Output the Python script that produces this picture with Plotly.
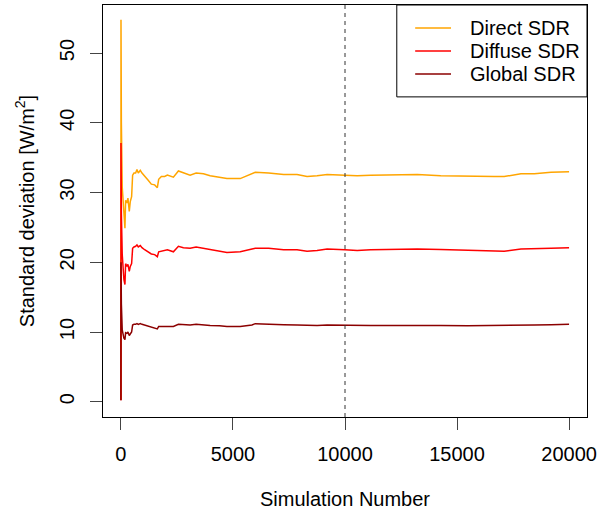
import plotly.graph_objects as go

sim_number = [1, 3, 20, 58, 104, 134, 179, 209, 268, 313, 373, 417, 477, 522, 582,
              656, 716, 775, 865, 940, 1059, 1208, 1357, 1506, 1625, 1685, 1805,
              1954, 2073, 2342, 2566, 2789, 3087, 3356, 3684, 3982, 4400, 4730,
              5324, 5847, 5995, 6591, 7262, 7860, 8307, 8755, 9203, 9992, 10545,
              11141, 12184, 13230, 14273, 15467, 16658, 17105, 17852, 18449,
              19195, 20000]

direct_sdr = [0.3, 54.8, 40.0, 30.8, 27.8, 26.5, 24.9, 28.9, 28.5, 29.2, 27.3, 28.7,
              29.4, 32.5, 32.8, 32.8, 33.3, 32.8, 33.2, 32.8, 32.4, 31.8, 31.2, 31.1,
              30.7, 31.9, 32.3, 32.3, 32.5, 32.2, 33.1, 32.8, 32.5, 32.8, 32.7, 32.4,
              32.2, 32.0, 32.0, 32.7, 32.9, 32.8, 32.6, 32.6, 32.3, 32.4, 32.6, 32.5,
              32.4, 32.5, 32.5, 32.6, 32.4, 32.3, 32.3, 32.3, 32.7, 32.7, 32.9, 33.0]

diffuse_sdr = [0.2, 37.1, 27.0, 21.1, 18.5, 17.5, 16.8, 19.8, 19.4, 19.7, 18.7, 19.4,
               19.8, 22.0, 22.2, 22.3, 22.5, 22.2, 22.4, 22.1, 21.8, 21.5, 21.2, 21.1,
               20.8, 21.5, 21.6, 21.7, 21.8, 21.5, 22.3, 22.1, 22.0, 22.2, 22.0, 21.9,
               21.6, 21.4, 21.5, 21.9, 22.0, 22.0, 21.8, 21.8, 21.6, 21.7, 21.9, 21.8,
               21.7, 21.8, 21.9, 21.9, 21.85, 21.75, 21.7, 21.6, 21.9, 21.9, 22.0, 22.1]

global_sdr = [0.2, 20.0, 14.0, 10.3, 9.3, 9.1, 8.9, 9.9, 9.8, 10.0, 9.5, 9.8,
              10.0, 11.0, 11.1, 11.1, 11.2, 11.1, 11.2, 11.1, 11.0, 10.8, 10.65, 10.6,
              10.45, 10.8, 10.8, 10.8, 10.9, 10.8, 11.1, 11.05, 11.0, 11.1, 11.0, 10.95,
              10.9, 10.8, 10.8, 11.0, 11.2, 11.1, 11.05, 11.0, 10.95, 10.95, 11.0, 10.95,
              10.95, 10.95, 10.95, 11.0, 10.95, 10.9, 10.9, 10.9, 11.0, 11.0, 11.05, 11.1]

series_names = ["Direct SDR", "Diffuse SDR", "Global SDR"]
series_colors = ["orange", "red", "darkred"]

cutoff = 10000
x_ticks = [0, 5000, 10000, 15000, 20000]
x_labels = ["0", "5000", "10000", "15000", "20000"]
y_ticks = [0, 10, 20, 30, 40, 50]

font = "Liberation Sans, Arial, sans-serif"

fig = go.Figure()
for name, vals, col in zip(series_names, [direct_sdr, diffuse_sdr, global_sdr], series_colors):
    fig.add_trace(go.Scatter(x=sim_number, y=vals, mode="lines", name=name,
                             line=dict(color=col, width=1.5)))

# dashed marker at 10000 simulations
fig.add_shape(type="line", x0=cutoff, x1=cutoff, y0=0, y1=1, xref="x", yref="paper",
              line=dict(color="#333333", width=1, dash="4px,4px"))

# R-style legend box in the top right corner (tighter rows than plotly's legend)
fig.add_shape(type="rect", xref="paper", yref="paper", x0=0.607, x1=1, y0=0.777, y1=1,
              line=dict(color="black", width=1), fillcolor="white", layer="above")
for i, (name, col) in enumerate(zip(series_names, series_colors)):
    yy = 0.944 - i * 0.0558
    fig.add_shape(type="line", xref="paper", yref="paper", x0=0.645, x1=0.719,
                  y0=yy, y1=yy, line=dict(color=col, width=1.5), layer="above")
    fig.add_annotation(xref="paper", yref="paper", x=0.754, y=yy, text=name,
                       showarrow=False, xanchor="left", yanchor="middle",
                       font=dict(size=20, color="black"))

axis_common = dict(showgrid=False, zeroline=False, showline=True, mirror=True,
                   linecolor="black", linewidth=1, ticks="outside", ticklen=12,
                   tickcolor="#444444", tickfont=dict(size=20, color="black"),
                   automargin=False)

fig.update_xaxes(range=[-800, 20800], tickvals=x_ticks, ticktext=x_labels,
                 ticklabelstandoff=7,
                 title=dict(text="Simulation Number", font=dict(size=20), standoff=27),
                 **axis_common)
fig.update_yaxes(range=[-2.19, 56.9], tickvals=y_ticks, tickangle=-90,
                 ticklabelstandoff=8,
                 title=dict(text="Standard deviation [W/m<sup>2</sup>]",
                            font=dict(size=20), standoff=16),
                 **axis_common)

fig.update_layout(
    width=599, height=510,
    margin=dict(l=103, r=12, t=5, b=93),
    plot_bgcolor="white", paper_bgcolor="white",
    font=dict(family=font, size=20, color="black"),
    showlegend=False,
)

# drop the browser's default 8px body margin so the figure fills the window
fig.write_html("out.html", config={"displayModeBar": False},
               post_script="document.body.style.margin='0';")
